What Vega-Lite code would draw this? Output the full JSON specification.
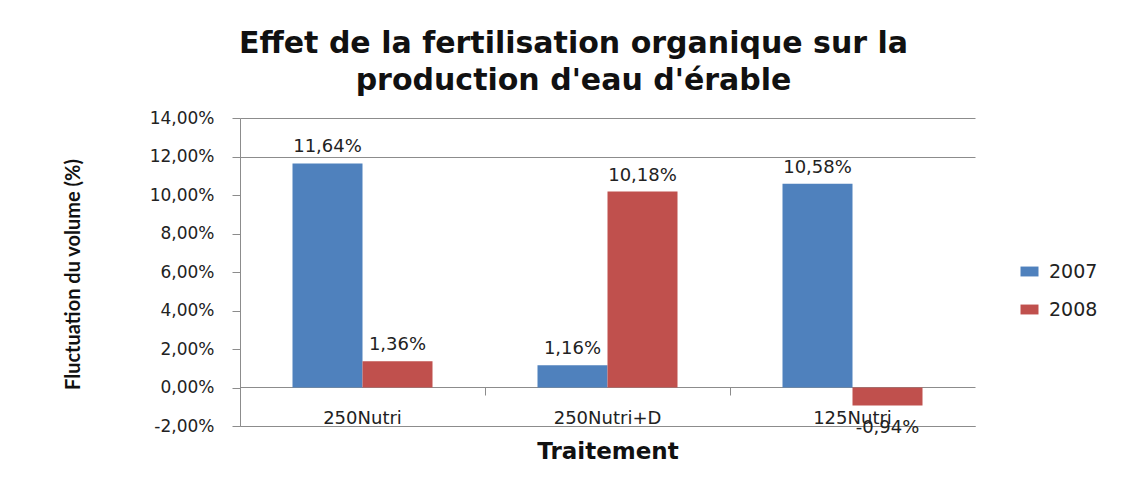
{
  "$schema": "https://vega.github.io/schema/vega-lite/v6.json",
  "width": 735,
  "height": 308,
  "autosize": {"type": "none"},
  "padding": {"left": 240, "top": 118, "right": 158, "bottom": 56},
  "background": "white",
  "config": {
    "locale": {"number": {"decimal": ",", "thousands": " ", "grouping": [3], "currency": ["", "€"], "minus": "-"}},
    "view": {"stroke": null},
    "axis": {"labelFont": "DejaVu Sans", "labelFontSize": 17, "labelColor": "#222", "domainColor": "#8c8c8c", "tickColor": "#8c8c8c", "gridColor": "#8c8c8c"}
  },
  "title": {
    "text": ["Effet de la fertilisation organique sur la", "production d'eau d'érable"],
    "font": "DejaVu Sans", "fontSize": 30, "fontWeight": "bold", "color": "#111",
    "anchor": "middle", "dx": -34, "offset": 13, "lineHeight": 37
  },
  "data": {
    "values": [
      {"Traitement": "250Nutri", "Année": "2007", "valeur": 0.1164},
      {"Traitement": "250Nutri", "Année": "2008", "valeur": 0.0136},
      {"Traitement": "250Nutri+D", "Année": "2007", "valeur": 0.0116},
      {"Traitement": "250Nutri+D", "Année": "2008", "valeur": 0.1018},
      {"Traitement": "125Nutri", "Année": "2007", "valeur": 0.1058},
      {"Traitement": "125Nutri", "Année": "2008", "valeur": -0.0094}
    ]
  },
  "encoding": {
    "xOffset": {"field": "Année", "type": "nominal", "scale": {"paddingInner": 0, "paddingOuter": 0.75}},
    "y": {
      "field": "valeur", "type": "quantitative",
      "scale": {"domain": [-0.02, 0.14], "nice": false, "zero": false},
      "axis": {
        "title": "Fluctuation du volume (%)", "format": ".2%",
        "values": [-0.02, 0, 0.02, 0.04, 0.06, 0.08, 0.1, 0.12, 0.14],
        "labelOverlap": false,
        "tickSize": 8, "labelPadding": 18,
        "grid": true,
        "gridOpacity": {"condition": {"test": "datum.value >= 0.115 || datum.value < -0.015", "value": 1}, "value": 0},
        "titleFont": "Lato", "titleFontSize": 20, "titleFontWeight": "bold", "titleColor": "#111",
        "titleX": -167, "titleY": 156, "titleAngle": 270, "titleBaseline": "middle", "titleAlign": "center"
      }
    }
  },
  "layer": [
    {
      "mark": {"type": "bar"},
      "encoding": {
        "x": {
          "field": "Traitement", "type": "nominal",
          "sort": ["250Nutri", "250Nutri+D", "125Nutri"],
          "scale": {"paddingInner": 0, "paddingOuter": 0},
          "axis": {
            "orient": "bottom", "title": "Traitement", "labelAngle": 0, "ticks": false,
            "labelPadding": -17, "labelBaseline": "top", "labelFontSize": 18, "domain": true,
            "titleFont": "DejaVu Sans", "titleFontSize": 23, "titleFontWeight": "bold", "titleColor": "#111",
            "titleY": 25, "titleBaseline": "middle"
          }
        },
        "color": {
          "field": "Année", "type": "nominal",
          "scale": {"domain": ["2007", "2008"], "range": ["#4F81BD", "#C0504D"]},
          "legend": {
            "title": null, "orient": "none", "legendX": 780, "legendY": 144,
            "symbolType": "M-1,-0.55H1V0.55H-1Z", "symbolSize": 324, "symbolStrokeWidth": 0,
            "labelFont": "DejaVu Sans", "labelFontSize": 19, "labelColor": "#222",
            "rowPadding": 18, "labelOffset": 10
          }
        }
      }
    },
    {
      "transform": [{"filter": "datum.valeur >= 0"}],
      "mark": {"type": "text", "baseline": "bottom", "dy": -7, "font": "DejaVu Sans", "fontSize": 18, "color": "#222"},
      "encoding": {
        "x": {
          "field": "Traitement", "type": "nominal",
          "sort": ["250Nutri", "250Nutri+D", "125Nutri"],
          "axis": {"orient": "bottom", "offset": -39, "title": null, "labels": false, "ticks": true, "tickSize": 8, "bandPosition": 0, "domain": true}
        },
        "text": {"field": "valeur", "type": "quantitative", "format": ".2%"}
      }
    },
    {
      "transform": [{"filter": "datum.valeur < 0"}],
      "mark": {"type": "text", "baseline": "top", "dy": 13, "font": "DejaVu Sans", "fontSize": 18, "color": "#222"},
      "encoding": {
        "x": {"field": "Traitement", "type": "nominal", "sort": ["250Nutri", "250Nutri+D", "125Nutri"], "axis": null},
        "text": {"field": "valeur", "type": "quantitative", "format": ".2%"}
      }
    }
  ],
  "resolve": {"axis": {"x": "independent"}}
}
